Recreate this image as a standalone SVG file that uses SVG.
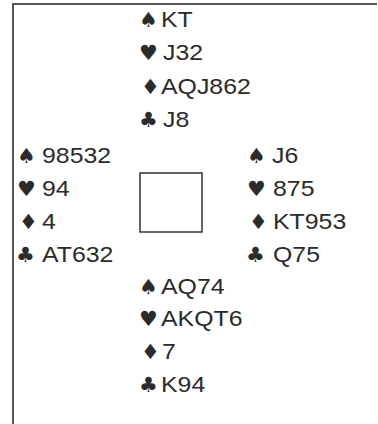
<svg xmlns="http://www.w3.org/2000/svg" width="378" height="424" viewBox="0 0 378 424">
<style>
.t{font-family:"Liberation Sans",Arial,sans-serif;font-size:22px;fill:#2b2b2b}
.s{font-family:"DejaVu Sans",sans-serif;font-size:21px;fill:#2b2b2b}
.frame{stroke:#555;stroke-width:2;fill:none}
</style>
<rect width="378" height="424" fill="#fff"/>
<g id="frame">
<path class="frame" d="M12,4 H377 M13,4 V424"/>
</g>
<g id="north">
<text class="s" x="139" y="27">♠</text><text class="t" transform="translate(161,27) scale(1.13,1)">KT</text>
<text class="s" x="139" y="60">♥</text><text class="t" transform="translate(163,60) scale(1.13,1)">J32</text>
<text class="s" x="141" y="94">♦</text><text class="t" transform="translate(161,94) scale(1.13,1)">AQJ862</text>
<text class="s" x="139" y="127">♣</text><text class="t" transform="translate(163,127) scale(1.13,1)">J8</text>
</g>
<g id="west">
<text class="s" x="17" y="163">♠</text><text class="t" transform="translate(42,163) scale(1.13,1)">98532</text>
<text class="s" x="17" y="196">♥</text><text class="t" transform="translate(42,196) scale(1.13,1)">94</text>
<text class="s" x="19" y="229">♦</text><text class="t" transform="translate(42,229) scale(1.13,1)">4</text>
<text class="s" x="16" y="262">♣</text><text class="t" transform="translate(42,262) scale(1.13,1)">AT632</text>
</g>
<g id="table">
<rect x="140" y="173" width="62" height="59" fill="none" stroke="#333" stroke-width="1.5"/>
</g>
<g id="east">
<text class="s" x="247" y="163">♠</text><text class="t" transform="translate(272,163) scale(1.13,1)">J6</text>
<text class="s" x="247" y="196">♥</text><text class="t" transform="translate(273,196) scale(1.13,1)">875</text>
<text class="s" x="249" y="229">♦</text><text class="t" transform="translate(273,229) scale(1.13,1)">KT953</text>
<text class="s" x="246" y="262">♣</text><text class="t" transform="translate(273,262) scale(1.13,1)">Q75</text>
</g>
<g id="south">
<text class="s" x="139" y="294">♠</text><text class="t" transform="translate(161,294) scale(1.13,1)">AQ74</text>
<text class="s" x="139" y="326">♥</text><text class="t" transform="translate(161,326) scale(1.13,1)">AKQT6</text>
<text class="s" x="141" y="359">♦</text><text class="t" transform="translate(162,359) scale(1.13,1)">7</text>
<text class="s" x="139" y="392">♣</text><text class="t" transform="translate(161,392) scale(1.13,1)">K94</text>
</g>
</svg>
